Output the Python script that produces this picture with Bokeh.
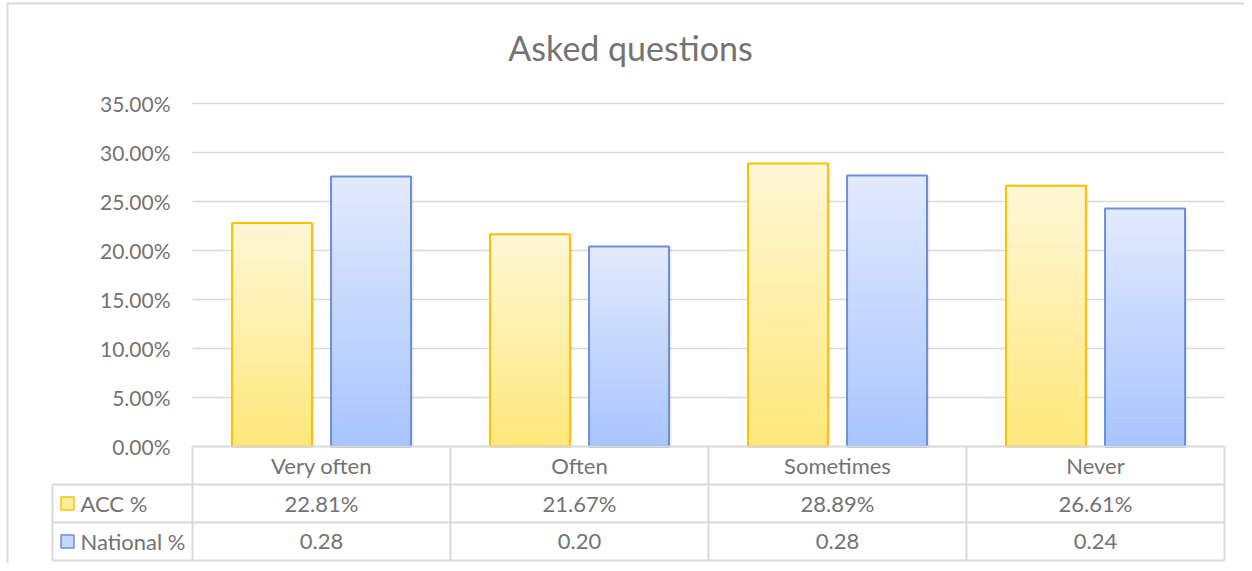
from bokeh.plotting import figure
from bokeh.models import Range1d
from bokeh.core.properties import value
from bokeh.embed import file_html
from bokeh.resources import INLINE

# ---- data ----
categories = ["Very often", "Often", "Sometimes", "Never"]
acc_pct = [22.81, 21.67, 28.89, 26.61]
national_pct = [27.55, 20.41, 27.65, 24.29]
acc_labels = ["22.81%", "21.67%", "28.89%", "26.61%"]
national_labels = ["0.28", "0.20", "0.28", "0.24"]
series_names = ["ACC %", "National %"]
y_ticks = [0, 5, 10, 15, 20, 25, 30, 35]
title_text = "Asked questions"

# ---- styles ----
FONT = "Lato"
TXT = "#737373"
GRID = "#D9D9D9"
ACC_TOP, ACC_BOT, ACC_LINE = (255, 247, 214), (255, 232, 122), "#FFC000"
NAT_TOP, NAT_BOT, NAT_LINE = (226, 234, 253), (168, 196, 255), "#6C8FD5"

W, H = 1244, 563
PX_X = 258.0          # px per category
PX_Y = 9.8            # px per percent
X0, Y0 = 192, 446     # canvas position of x=0, y=0
x_start = -X0 / PX_X
x_end = (W - X0) / PX_X
y_end = Y0 / PX_Y
y_start = -(H - Y0) / PX_Y


def sx(px):
    return (px - X0) / PX_X


def sy(py):
    return (Y0 - py) / PX_Y


p = figure(width=W, height=H, output_backend="svg", toolbar_location=None,
           x_axis_location=None, y_axis_location=None,
           x_range=Range1d(x_start, x_end), y_range=Range1d(y_start, y_end),
           min_border=0, tools="")
p.outline_line_color = None
p.grid.visible = False
p.background_fill_color = "white"
p.border_fill_color = "white"

n = len(categories)
xs = [i + 0.5 for i in range(n)]
off = 0.192
bw = 0.31

# outer border (top, left)
bx0, by0 = sx(7), sy(3)
p.segment(x0=[bx0, bx0], y0=[by0, by0], x1=[x_end, bx0], y1=[by0, y_start],
          line_color=GRID, line_width=2)

# gridlines
grid_vals = [t for t in y_ticks if t > 0]
p.segment(x0=[0] * len(grid_vals), y0=grid_vals, x1=[n] * len(grid_vals), y1=grid_vals,
          line_color=GRID, line_width=1.5)

# y tick labels
p.text(x=[sx(170)] * len(y_ticks), y=y_ticks, text=[f"{t:.2f}%" for t in y_ticks],
       text_align="right", text_baseline="middle", text_color=TXT,
       text_font=value(FONT), text_font_size="21px")


def hexc(c):
    return "#%02x%02x%02x" % tuple(int(round(v)) for v in c)


def gradient_bars(centers, vals, top, bot, line):
    N = 60
    bx, bb, bt, bc = [], [], [], []
    for cx, v in zip(centers, vals):
        for k in range(N):
            f = (k + 0.5) / N
            c = tuple(bot[j] * (1 - f) + top[j] * f for j in range(3))
            bx.append(cx)
            bb.append(v * k / N)
            bt.append(v * (k + 1) / N)
            bc.append(hexc(c))
    # soft shadow
    p.vbar(x=[c + 0.004 for c in centers], top=vals, bottom=[-0.15] * len(vals), width=bw + 0.012,
           fill_color="black", fill_alpha=0.07, line_color=None)
    p.vbar(x=bx, bottom=bb, top=bt, width=bw, fill_color=bc, line_color=bc, line_width=0.6)
    p.vbar(x=centers, top=vals, width=bw, fill_color=None, line_color=line, line_width=2)


gradient_bars([x - off for x in xs], acc_pct, ACC_TOP, ACC_BOT, ACC_LINE)
gradient_bars([x + off for x in xs], national_pct, NAT_TOP, NAT_BOT, NAT_LINE)

# data table
row_y = [0, sy(484), sy(522), sy(560)]
left = sx(52)
p.segment(x0=[0, left, left, left], y0=row_y, x1=[n] * 4, y1=row_y, line_color=GRID, line_width=2)
vx = list(range(n + 1))
p.segment(x0=vx, y0=[0] * len(vx), x1=vx, y1=[row_y[3]] * len(vx), line_color=GRID, line_width=2)
p.segment(x0=[left], y0=[row_y[1]], x1=[left], y1=[row_y[3]], line_color=GRID, line_width=2)

mid = [(row_y[i] + row_y[i + 1]) / 2 for i in range(3)]
for row, labels in zip(mid, [categories, acc_labels, national_labels]):
    p.text(x=xs, y=[row] * n, text=labels, text_align="center", text_baseline="middle",
           text_color=TXT, text_font=value(FONT), text_font_size="22px")

# legend keys in table
p.text(x=[sx(80), sx(80)], y=[mid[1], mid[2]], text=series_names, text_align="left",
       text_baseline="middle", text_color=TXT, text_font=value(FONT), text_font_size="22px")
p.scatter(x=[sx(67)], y=[mid[1]], marker="square", size=13, fill_color="#FFEE9E",
          line_color=ACC_LINE, line_width=1.5)
p.scatter(x=[sx(67)], y=[mid[2]], marker="square", size=13, fill_color="#C6D7FD",
          line_color=NAT_LINE, line_width=1.5)

# title
p.text(x=[sx(630)], y=[sy(47)], text=[title_text], text_align="center", text_baseline="middle",
       text_color=TXT, text_font=value(FONT), text_font_size="34px")

open("out.html", "w").write(file_html(p, INLINE))
